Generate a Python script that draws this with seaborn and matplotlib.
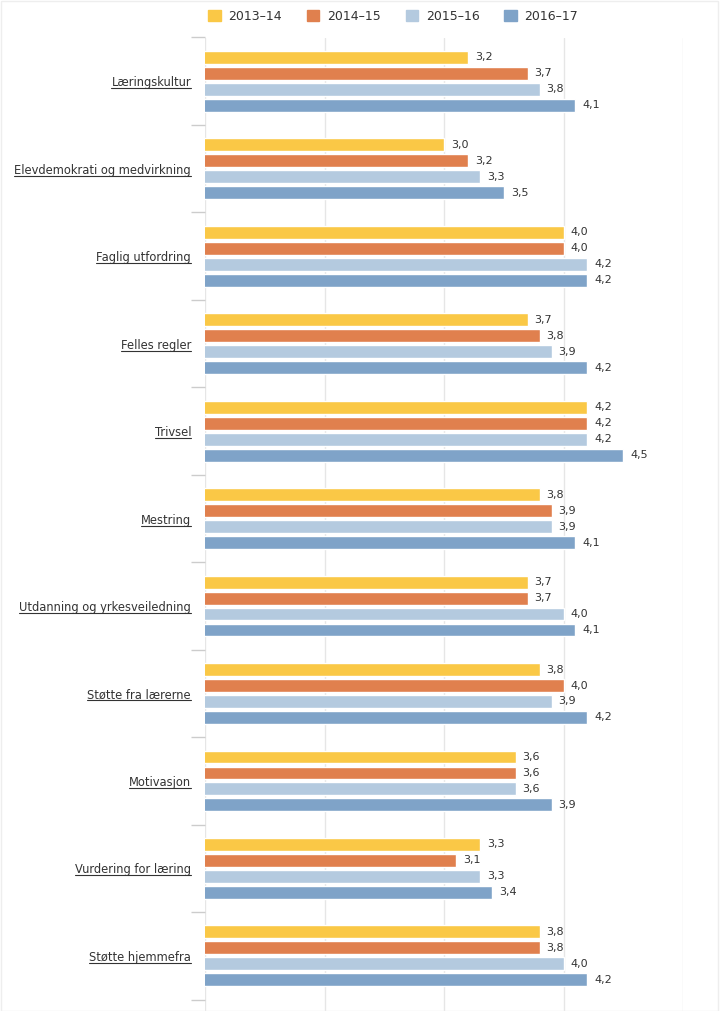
import numpy as np
import pandas as pd
import matplotlib
matplotlib.use("Agg")
import matplotlib.pyplot as plt
from matplotlib.lines import Line2D
from matplotlib.patches import Rectangle
import seaborn as sns

# =========================
# Data
# =========================
categories = [
    "Læringskultur",
    "Elevdemokrati og medvirkning",
    "Faglig utfordring",
    "Felles regler",
    "Trivsel",
    "Mestring",
    "Utdanning og yrkesveiledning",
    "Støtte fra lærerne",
    "Motivasjon",
    "Vurdering for læring",
    "Støtte hjemmefra",
]
years = ["2013–14", "2014–15", "2015–16", "2016–17"]

v_2013 = [3.2, 3.0, 4.0, 3.7, 4.2, 3.8, 3.7, 3.8, 3.6, 3.3, 3.8]
v_2014 = [3.7, 3.2, 4.0, 3.8, 4.2, 3.9, 3.7, 4.0, 3.6, 3.1, 3.8]
v_2015 = [3.8, 3.3, 4.2, 3.9, 4.2, 3.9, 4.0, 3.9, 3.6, 3.3, 4.0]
v_2016 = [4.1, 3.5, 4.2, 4.2, 4.5, 4.1, 4.1, 4.2, 3.9, 3.4, 4.2]

colors = ["#FAC846", "#E0804E", "#B4CADF", "#7FA3C8"]

rows = []
for yr, vals in zip(years, [v_2013, v_2014, v_2015, v_2016]):
    for cat, v in zip(categories, vals):
        rows.append({"Kategori": cat, "År": yr, "Verdi": v})
df = pd.DataFrame(rows)

# =========================
# Plot
# =========================
sns.set_style("white")
plt.rcParams["font.family"] = ["DejaVu Sans"]

W, H = 723, 1011
fig = plt.figure(figsize=(W / 100, H / 100), dpi=100)
ax_left, ax_right, ax_top = 205 / W, 683 / W, 1 - 37.5 / H
ax = fig.add_axes([ax_left, 0, ax_right - ax_left, ax_top])

sns.barplot(
    data=df, y="Kategori", x="Verdi", hue="År", orient="h",
    palette=colors, saturation=1, width=0.73, gap=0.19, ax=ax, legend=False,
)

# value labels with comma decimals
for cont in ax.containers:
    labels = [f"{b.get_width():.1f}".replace(".", ",") for b in cont]
    ax.bar_label(cont, labels=labels, padding=5, fontsize=8, color="#333333")

ax.set_xlim(1, 5)
ax.set_ylim(10.63, -0.5)
ax.set_xticks([1, 2, 3, 4, 5])
ax.set_xticklabels([])
ax.tick_params(axis="x", length=0)
ax.grid(axis="x", color="#e6e6e6", linewidth=1)
ax.set_axisbelow(True)
for s in ax.spines.values():
    s.set_visible(False)
ax.set_xlabel("")
ax.set_ylabel("")

# category boundary ticks on the left
ax.set_yticks(np.arange(-0.5, 11, 1), minor=True)
ax.tick_params(axis="y", which="minor", left=True, length=10, color="#cccccc", width=1)
ax.tick_params(axis="y", which="major", left=False, length=0, pad=10, labelsize=8.3,
               labelcolor="#333333")

# legend
handles = [Rectangle((0, 0), 1, 1, color=c) for c in colors]
fig.legend(handles, years, loc="center", bbox_to_anchor=(0.544, 1 - 16 / H),
           ncol=4, frameon=False, fontsize=9, handlelength=1.0, handleheight=1.0,
           handletextpad=0.6, columnspacing=2.0, labelcolor="#333333")

# faint outer border
fig.add_artist(Rectangle((1 / W, 0), (W - 6) / W, 1 - 1 / H, transform=fig.transFigure,
                         fill=False, edgecolor="#eeeeee", linewidth=1))

# underline category labels
fig.canvas.draw()
renderer = fig.canvas.get_renderer()
for lab in ax.get_yticklabels():
    bb = lab.get_window_extent(renderer)
    y = (bb.y0 + 1) / H
    fig.add_artist(Line2D([bb.x0 / W, bb.x1 / W], [y, y], color="#333333",
                          linewidth=0.8, transform=fig.transFigure))

fig.savefig("out.png", dpi=100)
